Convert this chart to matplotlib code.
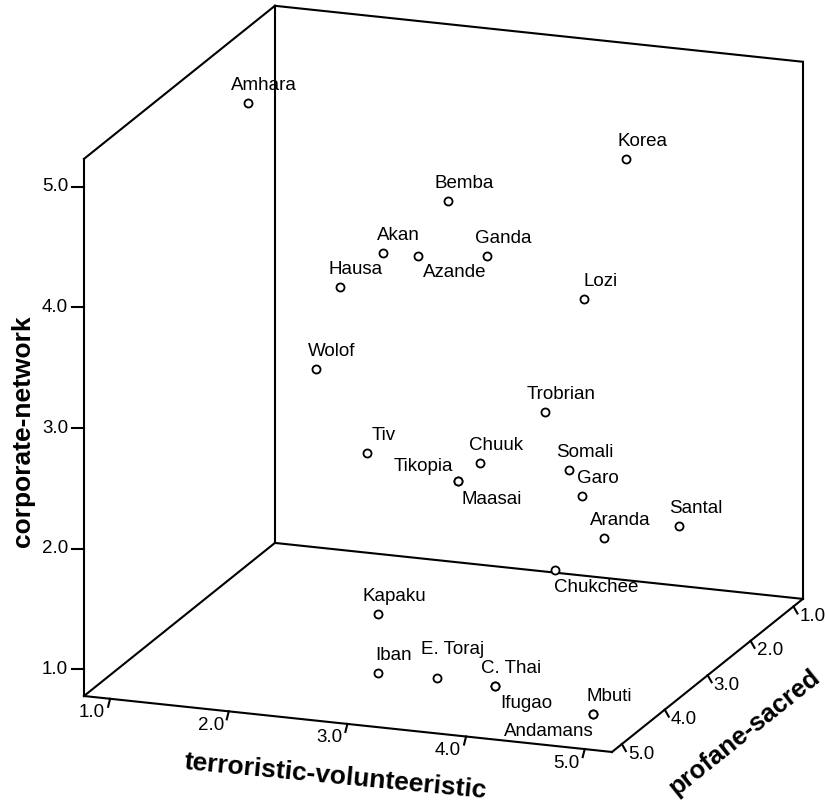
import numpy as np
import matplotlib
matplotlib.use("Agg")
import matplotlib.pyplot as plt

plt.rcParams['font.family'] = ['Liberation Sans', 'DejaVu Sans']

# societies and their scores
names = ['Amhara', 'Korea', 'Bemba', 'Akan', 'Azande', 'Ganda', 'Hausa', 'Lozi',
         'Wolof', 'Trobrian', 'Tiv', 'Chuuk', 'Tikopia', 'Maasai', 'Somali', 'Garo',
         'Aranda', 'Santal', 'Chukchee', 'Kapaku', 'Iban', 'E. Toraj', 'C. Thai',
         'Ifugao', 'Mbuti', 'Andamans']
terror_vol = [1.21, 4.00, 2.68, 2.31, 2.61, 3.01, 2.13, 3.83,
              1.93, 3.68, 2.00, 3.13, 3.13, 3.13, 3.70, 3.99,
              4.36, 4.63, 3.40, 2.45, 2.99, 3.49, 3.98,
              3.98, 4.99, 4.99]
profane_sacred = [2.6, 1.5, 2.0, 2.5, 2.5, 2.0, 3.0, 2.0,
                  3.0, 2.5, 2.0, 2.5, 3.0, 3.0, 2.0, 2.5,
                  3.0, 2.0, 1.5, 3.0, 4.5, 4.5, 4.5,
                  4.5, 5.0, 5.0]
corp_network = [4.99, 4.50, 4.16, 3.83, 3.84, 3.74, 3.67, 3.47,
                2.97, 2.66, 2.00, 2.18, 2.17, 2.17, 2.04, 1.99,
                1.83, 1.67, 1.03, 1.00, 0.99, 1.00, 0.99,
                0.99, 1.00, 1.00]
ticks = [1.0, 2.0, 3.0, 4.0, 5.0]
lo, hi = 0.78, 5.23

# oblique projection of the SPSS box onto the page (pixels)
origin = np.array([84.0, 696.0])
ex = np.array([118.65, 12.58])
ey = np.array([-42.9, 34.4])
ez = np.array([0.0, -120.7])


def proj(x, y, z):
    x, y, z = np.asarray(x, float), np.asarray(y, float), np.asarray(z, float)
    p = origin[:, None] + np.outer(ex, np.atleast_1d(x) - lo) \
        + np.outer(ey, np.atleast_1d(y) - hi) + np.outer(ez, np.atleast_1d(z) - lo)
    return p[0], p[1]


fig = plt.figure(figsize=(8.25, 8.05), dpi=100)
ax = fig.add_axes([0, 0, 1, 1])
ax.set_xlim(0, 825)
ax.set_ylim(805, 0)
ax.axis('off')

lw = 1.5
edges = [
    # back wall
    ((lo, lo, hi), (hi, lo, hi)), ((hi, lo, lo), (hi, lo, hi)),
    ((lo, lo, lo), (hi, lo, lo)), ((lo, lo, lo), (lo, lo, hi)),
    # left wall
    ((lo, hi, lo), (lo, hi, hi)), ((lo, hi, hi), (lo, lo, hi)),
    ((lo, hi, lo), (lo, lo, lo)),
    # floor
    ((lo, hi, lo), (hi, hi, lo)), ((hi, hi, lo), (hi, lo, lo)),
]
for a, b in edges:
    u, v = proj([a[0], b[0]], [a[1], b[1]], [a[2], b[2]])
    ax.plot(u, v, color='black', lw=lw, solid_capstyle='projecting')

fs_tick = 13.5
# vertical axis: corporate-network
for t in ticks:
    u, v = proj(lo, hi, t)
    ax.plot([u[0] - 12, u[0]], [v[0], v[0]], color='black', lw=lw)
    ax.text(u[0] - 16, v[0], f'{t:.1f}', ha='right', va='center', fontsize=fs_tick)
# front axis: terroristic-volunteeristic
for t in ticks:
    u, v = proj(t, hi, lo)
    ax.plot([u[0], u[0] - 2], [v[0], v[0] + 8], color='black', lw=lw)
    ax.text(u[0] - 5, v[0] + 14, f'{t:.1f}', ha='right', va='center', fontsize=fs_tick)
# depth axis: profane-sacred
for t in ticks:
    u, v = proj(hi, t, lo)
    ax.plot([u[0], u[0] + 4], [v[0], v[0] + 7], color='black', lw=lw)
    ax.text(u[0] + 6, v[0] + 10, f'{t:.1f}', ha='left', va='center', fontsize=fs_tick)

# points
pu, pv = proj(terror_vol, profane_sacred, corp_network)
ax.plot(pu, pv, 'o', ms=5.8, mfc='white', mec='black', mew=1.3, ls='none')

label_offset = {'Azande': (36, 21), 'Tikopia': (-35, -10), 'Maasai': (33, 23),
                'Chukchee': (41, 22), 'E. Toraj': (16, -24), 'Ifugao': (31, 22),
                'Andamans': (-45, 22)}
for name, u, v in zip(names, pu, pv):
    dx, dy = label_offset.get(name, (16, -13))
    ax.text(u + dx, v + dy, name, ha='center', va='baseline', fontsize=13.5)

# axis titles
ax.text(23, 431, 'corporate-network', rotation=90, ha='center', va='center',
        fontsize=19, fontweight='bold')
ax.text(336, 777, 'terroristic-volunteeristic', rotation=-5.5, ha='center',
        va='center', fontsize=19, fontweight='bold', rotation_mode='anchor')
ax.text(744, 732, 'profane-sacred', rotation=38.7, ha='center', va='center',
        fontsize=18.5, fontweight='bold', rotation_mode='anchor')

fig.savefig('out.png', dpi=100)
